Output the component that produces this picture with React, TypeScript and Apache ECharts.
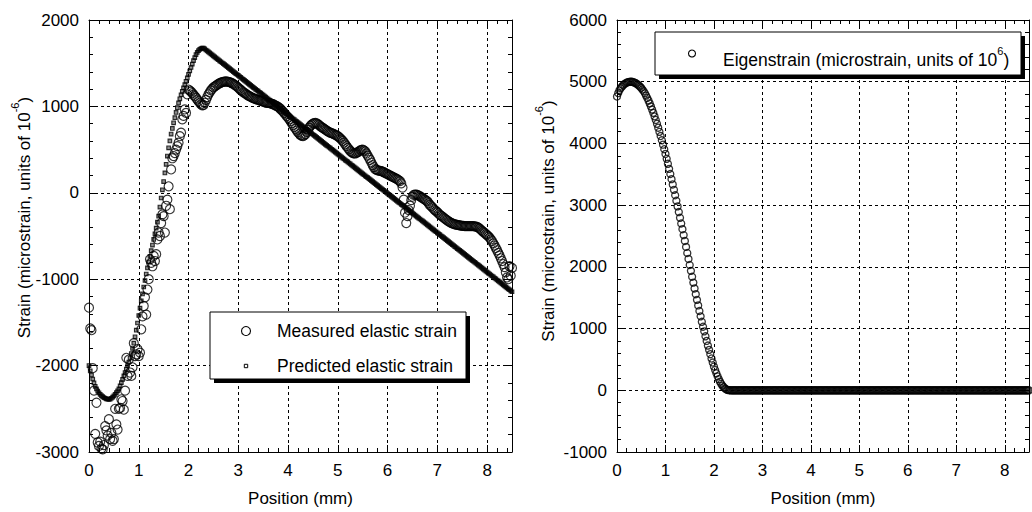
import { useEffect, useRef } from "react";
import * as echarts from "echarts";

// Sampling step of the measurement positions (mm); point i sits at i * STEP_MM
const STEP_MM = 0.025;

// Left panel: measured elastic strain (microstrain)
const MEASURED = [
  -1330, -1570, -1590, -2030, -2290, -2790, -2430, -2890, -2930, -2880,
  -2960, -2970, -2920, -2700, -2750, -2810, -2620, -2850, -2780, -2870,
  -2850, -2500, -2680, -2740, -2500, -2490, -2390, -2410, -2510, -2290,
  -1910, -2120, -1930, -2080, -2120, -2020, -1740, -1890, -1870, -1810,
  -1890, -1850, -1580, -1430, -1310, -1210, -1410, -1120, -1000, -770,
  -810, -850, -730, -790, -710, -540, -460, -500, -350, -250,
  -270, -460, -150, -80, 75, -190, 270, 400, 425, 460,
  500, 540, 580, 655, 695, 850, 890, 965, 925, 1140,
  1195, 1183, 1170, 1153, 1135, 1118, 1100, 1080, 1060, 1042,
  1025, 1012, 1015, 1042, 1075, 1108, 1140, 1163, 1185, 1203,
  1220, 1230, 1240, 1250, 1260, 1268, 1275, 1280, 1285, 1288,
  1290, 1288, 1285, 1280, 1275, 1268, 1260, 1250, 1240, 1228,
  1215, 1203, 1190, 1178, 1165, 1155, 1145, 1135, 1125, 1118,
  1110, 1102, 1095, 1090, 1085, 1080, 1075, 1070, 1065, 1060,
  1055, 1050, 1045, 1042, 1040, 1038, 1035, 1030, 1025, 1018,
  1010, 1003, 995, 983, 970, 955, 940, 923, 905, 888,
  870, 850, 830, 808, 785, 763, 740, 720, 700, 683,
  668, 660, 655, 665, 680, 705, 730, 753, 775, 790,
  800, 805, 808, 803, 795, 783, 770, 760, 750, 740,
  730, 720, 710, 703, 695, 690, 685, 678, 670, 663,
  655, 643, 630, 615, 600, 580, 560, 540, 520, 503,
  485, 472, 460, 456, 455, 462, 470, 480, 490, 496,
  500, 492, 480, 455, 430, 405, 380, 350, 320, 297,
  275, 267, 260, 257, 255, 250, 245, 238, 230, 222,
  215, 208, 200, 192, 185, 178, 170, 163, 155, 145,
  135, 110, 60, -80, -230, -350, -270, -200, -150, -85,
  -45, -25, -20, -22, -25, -32, -40, -50, -60, -70,
  -80, -90, -100, -120, -140, -155, -170, -185, -200, -213,
  -225, -240, -255, -265, -275, -288, -300, -310, -320, -330,
  -340, -348, -355, -360, -365, -369, -372, -375, -378, -380,
  -382, -384, -385, -385, -385, -385, -385, -385, -385, -386,
  -388, -391, -395, -404, -415, -428, -440, -453, -465, -478,
  -490, -505, -520, -540, -560, -585, -610, -638, -665, -695,
  -725, -758, -790, -825, -860, -920, -980, -1000, -850, -960,
  -870,
];

// Left panel: predicted elastic strain (microstrain)
const PREDICTED = [
  -2000, -2060, -2110, -2155, -2200, -2240, -2270, -2295, -2315, -2333,
  -2348, -2360, -2370, -2378, -2385, -2389, -2390, -2387, -2378, -2365,
  -2350, -2332, -2312, -2292, -2270, -2235, -2198, -2160, -2120, -2080,
  -2040, -2000, -1960, -1912, -1860, -1802, -1740, -1667, -1590, -1507,
  -1420, -1335, -1250, -1170, -1090, -1015, -940, -870, -800, -735,
  -670, -605, -540, -475, -410, -340, -270, -165, -60, 35,
  130, 230, 330, 425, 520, 600, 680, 745, 810, 870,
  930, 985, 1040, 1088, 1135, 1175, 1215, 1252, 1290, 1330,
  1370, 1410, 1450, 1490, 1530, 1565, 1600, 1625, 1645, 1660,
  1670, 1675, 1676,
  1665, 1653, 1642,
  1631, 1619, 1608, 1596, 1585, 1574, 1562, 1551, 1540, 1528, 1517, 1505,
  1494, 1483, 1471, 1460, 1449, 1437, 1426, 1414, 1403, 1392, 1380, 1369,
  1358, 1346, 1335, 1323, 1312, 1301, 1289, 1278, 1267, 1255, 1244, 1232,
  1221, 1210, 1198, 1187, 1176, 1164, 1153, 1141, 1130, 1119, 1107, 1096,
  1085, 1073, 1062, 1050, 1039, 1028, 1016, 1005, 994, 982, 971, 959,
  948, 937, 925, 914, 903, 891, 880, 868, 857, 846, 834, 823,
  812, 800, 789, 777, 766, 755, 743, 732, 721, 709, 698, 686,
  675, 664, 652, 641, 630, 618, 607, 595, 584, 573, 561, 550,
  539, 527, 516, 504, 493, 482, 470, 459, 448, 436, 425, 413,
  402, 391, 379, 368, 357, 345, 334, 322, 311, 300, 288, 277,
  266, 254, 243, 231, 220, 209, 197, 186, 175, 163, 152, 140,
  129, 118, 106, 95, 84, 72, 61, 49, 38, 27, 15, 4,
  -8, -19, -31, -42, -53, -64, -76, -87, -99, -110, -121, -133,
  -144, -155, -167, -178, -190, -201, -212, -224, -235, -246, -258, -269,
  -281, -292, -303, -315, -326, -337, -349, -360, -372, -383, -394, -406,
  -417, -428, -440, -451, -463, -474, -485, -497, -508, -519, -531, -542,
  -554, -565, -576, -588, -599, -610, -622, -633, -645, -656, -667, -679,
  -690, -701, -713, -724, -736, -747, -758, -770, -781, -792, -804, -815,
  -827, -838, -849, -861, -872, -883, -895, -906, -918, -929, -940, -952,
  -963, -974, -986, -997, -1009, -1020, -1031, -1043, -1054, -1065, -1077, -1088,
  -1100, -1111, -1122, -1134, -1145,
];

// Right panel: eigenstrain (microstrain)
const EIGEN = [
  4760, 4815, 4860, 4893, 4920, 4942, 4960, 4974, 4985, 4993,
  4998, 5000, 5000, 4996, 4990, 4981, 4970, 4956, 4940, 4921,
  4900, 4874, 4845, 4812, 4775, 4736, 4695, 4649, 4600, 4549,
  4495, 4438, 4380, 4318, 4255, 4188, 4120, 4051, 3980, 3906,
  3830, 3751, 3670, 3588, 3505, 3421, 3335, 3248, 3160, 3071,
  2980, 2888, 2795, 2703, 2610, 2515, 2420, 2323, 2225, 2128,
  2030, 1935, 1840, 1745, 1650, 1557, 1465, 1375, 1285, 1198,
  1110, 1030, 955, 875, 800, 725, 655, 585, 515, 450,
  385, 328, 275, 226, 180, 140, 105, 76, 50, 31,
  17, 8, 3, 1, 0,
  0, 0, 0, 0, 0, 0, 0, 0, 0, 0, 0, 0, 0, 0, 0, 0, 0, 0, 0, 0,
  0, 0, 0, 0, 0, 0, 0, 0, 0, 0, 0, 0, 0, 0, 0, 0, 0, 0, 0, 0,
  0, 0, 0, 0, 0, 0, 0, 0, 0, 0, 0, 0, 0, 0, 0, 0, 0, 0, 0, 0,
  0, 0, 0, 0, 0, 0, 0, 0, 0, 0, 0, 0, 0, 0, 0, 0, 0, 0, 0, 0,
  0, 0, 0, 0, 0, 0, 0, 0, 0, 0, 0, 0, 0, 0, 0, 0, 0, 0, 0, 0,
  0, 0, 0, 0, 0, 0, 0, 0, 0, 0, 0, 0, 0, 0, 0, 0, 0, 0, 0, 0,
  0, 0, 0, 0, 0, 0, 0, 0, 0, 0, 0, 0, 0, 0, 0, 0, 0, 0, 0, 0,
  0, 0, 0, 0, 0, 0, 0, 0, 0, 0, 0, 0, 0, 0, 0, 0, 0, 0, 0, 0,
  0, 0, 0, 0, 0, 0, 0, 0, 0, 0, 0, 0, 0, 0, 0, 0, 0, 0, 0, 0,
  0, 0, 0, 0, 0, 0, 0, 0, 0, 0, 0, 0, 0, 0, 0, 0, 0, 0, 0, 0,
  0, 0, 0, 0, 0, 0, 0, 0, 0, 0, 0, 0, 0, 0, 0, 0, 0, 0, 0, 0,
  0, 0, 0, 0, 0, 0, 0, 0, 0, 0, 0, 0, 0, 0, 0, 0, 0, 0, 0, 0,
  0, 0, 0, 0, 0, 0,
];

// Axis ranges
const X_RANGE = [0, 8.5];
const X_INTERVAL = 1;
const LEFT_Y_RANGE = [-3000, 2000];
const RIGHT_Y_RANGE = [-1000, 6000];
const Y_INTERVAL = 1000;

// Texts
const X_TITLE = "Position (mm)";
const Y_TITLE = "Strain (microstrain, units of 10{sup|-6})";
const MEASURED_NAME = "Measured elastic strain";
const PREDICTED_NAME = "Predicted elastic strain";
const EIGEN_NAME = "Eigenstrain (microstrain, units of 10{sup|6})";

const FONT = "Liberation Sans, Arial, Helvetica, sans-serif";
const FS = 17;
const LFS = 17.5;

const toPairs = (vals: number[]) =>
  vals.map((v, i) => [Math.round(i * STEP_MM * 1000) / 1000, v]);

const intLabel = (v: number) => (Number.isInteger(v) ? String(v) : "");

function axis(
  gridIndex: number,
  position: string,
  range: number[],
  interval: number,
  main: boolean,
  extra: any = {}
) {
  return {
    type: "value",
    gridIndex,
    position,
    min: range[0],
    max: range[1],
    interval,
    axisLine: { show: true, onZero: false, lineStyle: { color: "#000", width: 1 } },
    axisTick: { show: true, inside: true, length: 7, lineStyle: { color: "#000", width: 1 } },
    minorTick: { show: true, splitNumber: 5, length: 4, lineStyle: { color: "#000", width: 1 } },
    axisLabel: {
      show: main,
      margin: 10,
      color: "#000",
      fontSize: FS,
      fontFamily: FONT,
      formatter: intLabel,
    },
    splitLine: { show: main, lineStyle: { color: "#000", width: 1, type: [3, 3] } },
    minorSplitLine: { show: false },
    ...extra,
  };
}

const xName = {
  name: X_TITLE,
  nameLocation: "middle",
  nameGap: 38,
  nameTextStyle: { color: "#000", fontSize: FS, fontFamily: FONT },
};

const supRich = {
  sup: { fontSize: 11, lineHeight: 11, verticalAlign: "top", fontFamily: FONT, fill: "#000" },
};

const option: any = {
  animation: false,
  backgroundColor: "#fff",
  grid: [
    { left: 89, top: 20, width: 423, height: 433 },
    { left: 617, top: 20, width: 423, height: 433 },
  ],
  xAxis: [
    axis(0, "bottom", X_RANGE, X_INTERVAL, true, xName),
    axis(0, "top", X_RANGE, X_INTERVAL, false),
    axis(1, "bottom", X_RANGE, X_INTERVAL, true, xName),
    axis(1, "top", X_RANGE, X_INTERVAL, false),
  ],
  yAxis: [
    axis(0, "left", LEFT_Y_RANGE, Y_INTERVAL, true),
    axis(0, "right", LEFT_Y_RANGE, Y_INTERVAL, false),
    axis(1, "left", RIGHT_Y_RANGE, Y_INTERVAL, true),
    axis(1, "right", RIGHT_Y_RANGE, Y_INTERVAL, false),
  ],
  series: [
    {
      type: "scatter",
      name: MEASURED_NAME,
      xAxisIndex: 0,
      yAxisIndex: 0,
      data: toPairs(MEASURED),
      symbol: "circle",
      symbolSize: 9,
      itemStyle: { color: "rgba(0,0,0,0)", borderColor: "#000", borderWidth: 1.15 },
      silent: true,
    },
    {
      type: "scatter",
      name: PREDICTED_NAME,
      xAxisIndex: 0,
      yAxisIndex: 0,
      data: toPairs(PREDICTED),
      symbol: "rect",
      symbolSize: 3.6,
      itemStyle: { color: "rgba(0,0,0,0.55)", borderColor: "#000", borderWidth: 1.1 },
      silent: true,
    },
    {
      type: "scatter",
      name: "Eigenstrain",
      xAxisIndex: 2,
      yAxisIndex: 2,
      data: toPairs(EIGEN),
      symbol: "circle",
      symbolSize: 7,
      itemStyle: { color: "rgba(0,0,0,0)", borderColor: "#000", borderWidth: 1.3 },
      silent: true,
    },
  ],
  graphic: [
    // y-axis titles
    {
      type: "text",
      x: 24.5,
      y: 217.5,
      rotation: Math.PI / 2,
      silent: true,
      style: {
        text: Y_TITLE,
        fontSize: FS,
        fontFamily: FONT,
        fill: "#000",
        align: "center",
        verticalAlign: "middle",
        lineHeight: 30,
        rich: supRich,
      },
    },
    {
      type: "text",
      x: 548.5,
      y: 221,
      rotation: Math.PI / 2,
      silent: true,
      style: {
        text: Y_TITLE,
        fontSize: FS,
        fontFamily: FONT,
        fill: "#000",
        align: "center",
        verticalAlign: "middle",
        lineHeight: 30,
        rich: supRich,
      },
    },
    // left legend box
    { type: "rect", silent: true, z: 10, shape: { x: 214, y: 316, width: 256, height: 67 }, style: { fill: "#000" } },
    { type: "rect", silent: true, z: 11, shape: { x: 210, y: 312, width: 256, height: 67 }, style: { fill: "#fff", stroke: "#000", lineWidth: 1 } },
    { type: "circle", silent: true, z: 12, shape: { cx: 246, cy: 331, r: 4.5 }, style: { fill: "none", stroke: "#000", lineWidth: 1.1 } },
    { type: "rect", silent: true, z: 12, shape: { x: 244.3, y: 364.3, width: 3.4, height: 3.4 }, style: { fill: "none", stroke: "#000", lineWidth: 1 } },
    {
      type: "text", silent: true, z: 12, x: 277, y: 331,
      style: { text: MEASURED_NAME, fontSize: LFS, fontFamily: FONT, fill: "#000", align: "left", verticalAlign: "middle" },
    },
    {
      type: "text", silent: true, z: 12, x: 277, y: 366,
      style: { text: PREDICTED_NAME, fontSize: LFS, fontFamily: FONT, fill: "#000", align: "left", verticalAlign: "middle" },
    },
    // right legend box
    { type: "rect", silent: true, z: 10, shape: { x: 659, y: 36, width: 366, height: 43 }, style: { fill: "#000" } },
    { type: "rect", silent: true, z: 11, shape: { x: 655, y: 32, width: 366, height: 43 }, style: { fill: "#fff", stroke: "#000", lineWidth: 1 } },
    { type: "circle", silent: true, z: 12, shape: { cx: 692, cy: 53.5, r: 3.5 }, style: { fill: "none", stroke: "#000", lineWidth: 1.1 } },
    {
      type: "text", silent: true, z: 12, x: 723, y: 60,
      style: {
        text: EIGEN_NAME, fontSize: LFS, fontFamily: FONT, fill: "#000",
        align: "left", verticalAlign: "middle", lineHeight: 30, rich: supRich,
      },
    },
  ],
};

export default function App() {
  const ref = useRef<HTMLDivElement>(null);
  useEffect(() => {
    if (!ref.current) return;
    const chart = echarts.init(ref.current, null, { renderer: "svg" });
    chart.setOption(option);
    return () => chart.dispose();
  }, []);
  return (
    <div
      ref={ref}
      style={{ position: "absolute", left: 0, top: 0, width: 1032, height: 512, background: "#fff", overflow: "hidden" }}
    />
  );
}
